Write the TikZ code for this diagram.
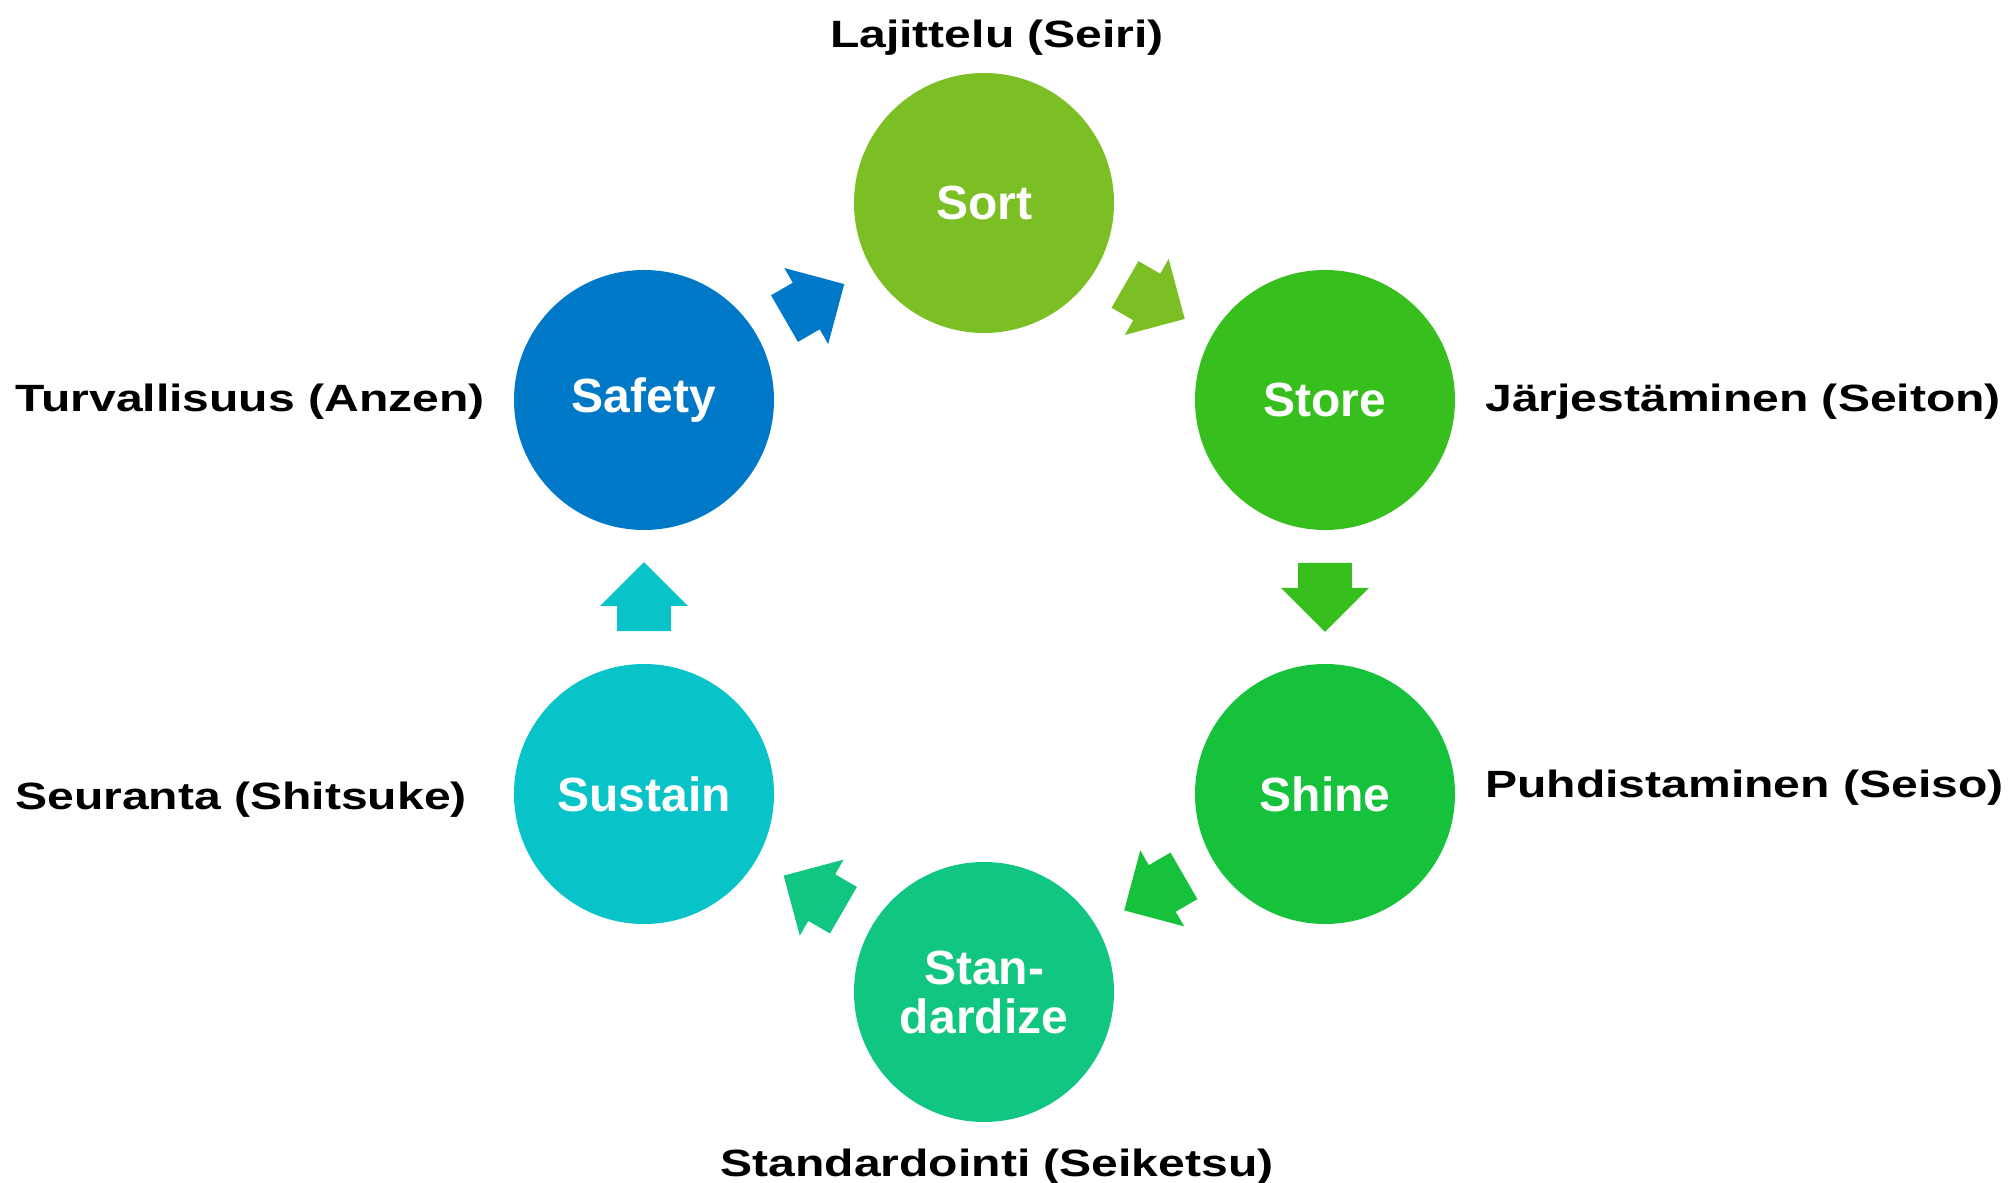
\documentclass[tikz,border=0pt]{standalone}
\usepackage{fontspec}
\setmainfont{Liberation Sans}
\newfontfamily\widefont{Liberation Sans}[FakeStretch=1.265]
\usetikzlibrary{shapes.arrows,calc}

\definecolor{sortgreen}{HTML}{7BBF24}
\definecolor{storegreen}{HTML}{37BF1E}
\definecolor{shinegreen}{HTML}{16C23C}
\definecolor{stdgreen}{HTML}{10C680}
\definecolor{sustaincyan}{HTML}{08C4C8}
\definecolor{safetyblue}{HTML}{0078C8}

\tikzset{etape/.style = {circle, fill = #1, minimum size = 130pt, inner sep = 0pt,
                         text = white, align = center,
                         font = \fontsize{24}{24.5}\selectfont\bfseries},
         etape/.default = sortgreen,
         fleche/.style = {single arrow, fill = #1, anchor = tail,
                          inner xsep = 0pt, inner ysep = 13.25pt,
                          minimum height = 34.5pt,
                          single arrow head extend = 8.5pt,
                          single arrow head indent = 0pt},
         nom/.style = {inner sep = 0pt, font = \widefont\fontsize{19}{19}\selectfont\bfseries}
        }

\begin{document}
\begin{tikzpicture}[x = 0.5pt, y = 0.5pt]
  \useasboundingbox (0,0) rectangle (2015,1183);

  \node[etape = sortgreen]   (sort)    at (984,980)  {Sort};
  \node[etape = storegreen]  (store)   at (1325,783) {Store};
  \node[etape = shinegreen]  (shine)   at (1325,389) {Shine};
  \node[etape = stdgreen]    (std)     at (984,191)  {Stan-\\dardize};
  \node[etape = sustaincyan] (sustain) at (644,389)  {Sustain};
  \node[etape = safetyblue]  (safety)  at (644,783)  {Safety};

  \node[fleche = sortgreen,   rotate = -30]  (f1) at ($($(sort)!0.5!(store)$)!-17.25pt!(store)$)      {};
  \node[fleche = storegreen,  rotate = -90]  (f2) at ($($(store)!0.5!(shine)$)!-17.25pt!(shine)$)     {};
  \node[fleche = shinegreen,  rotate = -150] (f3) at ($($(shine)!0.5!(std)$)!-17.25pt!(std)$)         {};
  \node[fleche = stdgreen,    rotate = 150]  (f4) at ($($(std)!0.5!(sustain)$)!-17.25pt!(sustain)$)   {};
  \node[fleche = sustaincyan, rotate = 90]   (f5) at ($($(sustain)!0.5!(safety)$)!-17.25pt!(safety)$) {};
  \node[fleche = safetyblue,  rotate = 30]   (f6) at ($($(safety)!0.5!(sort)$)!-17.25pt!(sort)$)      {};

  \node[nom, anchor = base]      (seiri)    at (997,1135) {Lajittelu (Seiri)};
  \node[nom, anchor = base west] (seiton)   at (1485,771) {Järjestäminen (Seiton)};
  \node[nom, anchor = base west] (seiso)    at (1485,385) {Puhdistaminen (Seiso)};
  \node[nom, anchor = base]      (seiketsu) at (997,6)    {Standardointi (Seiketsu)};
  \node[nom, anchor = base west] (shitsuke) at (15,373)   {Seuranta (Shitsuke)};
  \node[nom, anchor = base west] (anzen)    at (15,771)   {Turvallisuus (Anzen)};
\end{tikzpicture}
\end{document}
